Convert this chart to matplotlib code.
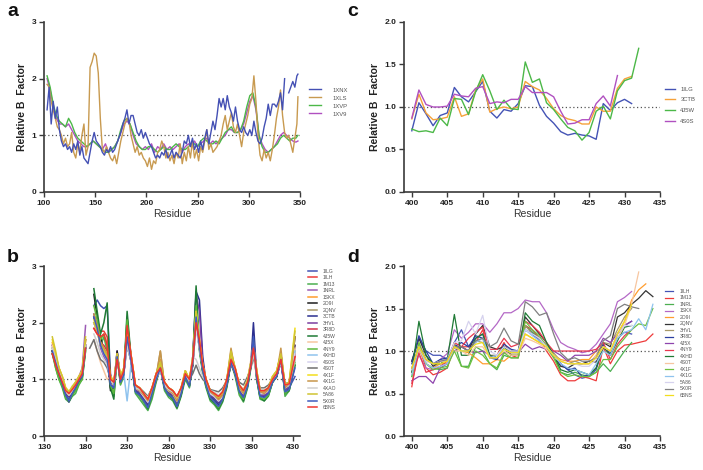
import numpy as np
import matplotlib
matplotlib.use('Agg')
import matplotlib.pyplot as plt

plt.rcParams['font.family'] = ['Liberation Sans', 'DejaVu Sans']
N = np.nan

# ---------------- panel a ----------------
a_names = ['1XNX', '1XLS', '1XVP', '1XV9']
a_colors = ['#4450b4', '#c89a50', '#4cb848', '#b050c0']
res_a_fine = list(range(103, 349, 2)) + [348]
res_a_coarse = list(range(103, 349, 3)) + [348]

a_1xnx = [1.45, 1.85, 1.2, 1.6, 1.3, 1.5, 1.1, 0.9, 0.8, 0.85,
          0.75, 0.8, 0.7, 0.85, 0.75, 0.9, 0.65, 0.8, 0.6, 0.55,
          0.5, 0.7, 0.9, 1.05, 0.9, 0.85, 0.8, 0.7, 0.65, 0.75,
          0.7, 0.8, 0.7, 0.75, 0.85, 0.95, 1.05, 1.2, 1.3, 1.45,
          1.2, 1.35, 1.35, 1.2, 1.05, 1.0, 1.1, 0.95, 1.05, 0.95,
          0.85, 0.8, 0.7, 0.6, 0.65, 0.6, 0.7, 0.65, 0.75, 0.6,
          0.65, 0.75, 0.6, 0.7, 0.65, 0.6, 0.7, 0.9, 0.85, 1.0,
          0.8, 0.95, 0.75, 0.85, 0.7, 0.9, 0.75, 0.95, 1.1, 0.85,
          1.05, 1.25, 1.1, 1.35, 1.65, 1.5, 1.65, 1.45, 1.7, 1.5,
          1.4, 1.25, 1.5, 1.25, 1.1, 1.05, 1.15, 1.05, 1.0, 1.1,
          1.0, 1.25, 1.05, 0.9, 0.85, 0.95, 1.15, 1.3, 1.55, 1.35,
          1.55, 1.55, 1.5, 1.6, 1.75, 1.45, 2.0, N, 1.75, 1.85,
          1.95, 1.85, 2.05, 2.08]
a_1xls = [1.9, 1.85, 1.6, 1.45, 1.3, 1.15, 1.1, 1.0, 0.85, 0.95,
          0.8, 0.85, 1.05, 0.7, 0.6, 0.85, 0.7, 1.0, 1.2, 0.65,
          0.8, 2.2, 2.3, 2.45, 2.4, 2.1, 1.3, 0.75, 0.7, 0.8,
          0.7, 0.6, 0.55, 0.65, 0.5, 0.7, 0.9, 1.05, 1.2, 1.3,
          1.25, 1.0, 0.85, 0.7, 0.8, 0.65, 0.7, 0.6, 0.55, 0.45,
          0.6, 0.4, 0.55, 0.5, 0.7, 0.75, 0.9, 0.8, 0.6, 0.7,
          0.55, 0.65, 0.5, 0.7, 0.6, 0.85, 0.5, 0.7, 0.55, 0.8,
          0.6, 0.9, 0.6, 0.75, 0.55, 0.8, 0.7, 0.9, 1.1, 0.75,
          0.85, 0.7, 0.75, 0.8, 0.9, 1.0, 1.2, 1.35, 1.1, 1.25,
          1.4, 1.15, 1.05, 1.2, 1.0, 0.8, 1.05, 1.2, 1.35, 1.55,
          1.65, 2.05, 1.6, 1.0, 0.65, 0.55, 0.75, 0.6, 0.7, 0.55,
          0.75, 1.0, 1.3, 1.5, 1.8, 1.35, 1.05, 0.95, 1.0, 0.85,
          0.7, 0.95, 1.2, 1.68]
a_1xvp = [2.05, 1.85, 1.55, 1.35, 1.25, 1.2, 1.15, 1.3, 1.2, 1.05,
          0.95, 0.9, 0.85, 0.8, 0.85, 0.9, 0.85, 0.8, 0.75, 0.7,
          0.7, 0.75, 0.8, 0.9, 1.1, 1.25, 1.3, 1.2, 1.05, 0.9,
          0.8, 0.75, 0.75, 0.8, 0.8, 0.75, 0.7, 0.75, 0.8, 0.75,
          0.75, 0.8, 0.85, 0.8, 0.75, 0.75, 0.8, 0.85, 0.85, 0.8,
          0.9, 0.95, 0.9, 0.85, 0.85, 0.9, 0.85, 0.95, 1.05, 1.1,
          1.15, 1.05, 1.05, 1.1, 1.25, 1.5, 1.7, 1.75, 1.5, 1.0,
          0.8, 0.7, 0.7, 0.75, 0.8, 0.85, 0.95, 1.0, 0.95, 0.9,
          0.95, 0.95, 1.0]
a_1xv9 = [2.0, 1.8, 1.5, 1.3, 1.2, 1.2, 1.15, 1.2, 1.1, 1.0,
          0.9, 0.85, 0.8, 0.8, 0.85, 0.9, 0.85, 0.8, 0.75, 0.85,
          0.7, 0.75, 0.8, 0.9, 1.05, 1.2, 1.25, 1.2, 1.0, 0.85,
          0.8, 0.75, 0.8, 0.75, 0.85, 0.7, 0.8, 0.75, 0.85, 0.75,
          0.8, 0.75, 0.8, 0.85, 0.7, 0.8, 0.85, 0.8, 0.9, 0.8,
          0.85, 0.9, 0.95, 0.85, 0.9, 0.85, 0.9, 0.95, 1.0, 1.1,
          1.1, 1.05, 1.05, 1.1, 1.2, 1.4, 1.6, 1.7, 1.45, 1.0,
          0.85, 0.75, 0.7, 0.75, 0.8, 0.9, 1.0, 1.05, 1.0, 0.95,
          0.9, 0.88, 0.9]
a_series = [(res_a_fine, a_1xnx), (res_a_fine, a_1xls),
            (res_a_coarse, a_1xvp), (res_a_coarse, a_1xv9)]

# ---------------- panel b ----------------
b_names = ['1ILG', '1ILH', '1M13', '1NRL', '1SKX', '2O9I', '2QNV', '3CTB',
           '3HVL', '3R8D', '4J5W', '4J5X', '4NY9', '4XHD', '4S0S', '4S0T',
           '4X1F', '4X1G', '4XAO', '5A86', '5X0R', '6BNS']
b_colors = ['#4453b5', '#ee3b3b', '#4caf50', '#9c5bb5', '#ff9d2e', '#1e1e1e',
            '#a89968', '#2b2f8f', '#7b3fa0', '#d2304a', '#1f7a35', '#f7c6a0',
            '#5cb83c', '#8fc3ee', '#d6d2ee', '#707070', '#f2de1c', '#c8964a',
            '#cfcfcf', '#d0c431', '#3f5bbf', '#f0352f']
res_b = [140, 144, 148, 152, 156, 160, 164, 168, 172, 176, 180,
         185,
         190, 194, 198, 202, 206, 210, 214, 218, 222, 226, 230,
         235, 240, 245, 250, 255, 260, 265, 270, 275, 280, 285, 290, 295, 300, 305, 309, 313,
         317, 321, 325, 330, 335, 340, 345, 350, 355, 360, 365, 370, 375, 379, 382,
         386, 390, 395, 400, 405, 410, 415, 420, 425, 432]

b_1ilg = [1.5, 1.3, 1.1, 0.95, 0.75, 0.65, 0.78, 0.85, 1.05, 1.05, 1.6,
          N,
          2.3, 2.4, 2.3, 2.25, 2.3, 1.1, 0.85, 1.5, 0.95, 1.1, 1.85,
          1.3, 0.8, 0.75, 0.65, 0.55, 0.78, 1.0, 1.2, 0.85, 0.75, 0.7, 0.55, 0.78, 1.05, 0.9, 1.25, 2.0,
          1.55, 1.15, 0.9, 0.7, 0.65, 0.58, 0.68, 0.9, 1.3, 1.1, 0.8, 0.72, 0.9, 1.25, 1.6,
          1.05, 0.72, 0.72, 0.78, 0.98, 1.08, 1.35, 0.75, 0.85, 1.05]
b_1ilh = [1.45, 1.3, 1.1, 1.0, 0.82, 0.75, 0.85, 0.92, 1.0, 1.15, 1.6,
          N,
          1.9, 1.8, 1.85, 1.85, 1.75, 1.05, 0.95, 1.4, 1.05, 1.15, 1.95,
          1.4, 0.88, 0.82, 0.75, 0.65, 0.85, 1.1, 1.2, 0.92, 0.85, 0.8, 0.68, 0.82, 1.1, 1.0, 1.35, 2.05,
          1.65, 1.25, 1.0, 0.8, 0.75, 0.68, 0.75, 0.98, 1.3, 1.2, 0.9, 0.8, 0.95, 1.25, 1.55,
          1.1, 0.8, 0.78, 0.82, 1.0, 1.12, 1.35, 0.9, 0.95, 1.4]
b_1m13 = [1.5, 1.2, 1.0, 0.85, 0.65, 0.6, 0.7, 0.75, 0.9, 1.0, 1.5,
          N,
          2.1, 1.9, 1.6, 1.75, 1.5, 0.85, 0.7, 1.4, 0.9, 1.05, 2.1,
          1.3, 0.75, 0.65, 0.55, 0.45, 0.65, 0.95, 1.2, 0.8, 0.68, 0.62, 0.48, 0.7, 1.0, 0.85, 1.3, 2.15,
          1.5, 1.1, 0.85, 0.62, 0.55, 0.45, 0.6, 0.85, 1.3, 1.05, 0.72, 0.6, 0.85, 1.2, 1.6,
          1.0, 0.65, 0.62, 0.7, 0.95, 1.05, 1.45, 0.7, 0.8, 1.25]
b_1nrl = [1.6, 1.4, 1.2, 1.0, 0.78, 0.7, 0.8, 0.95, 1.05, 1.2, 1.95,
          N,
          2.1, 1.9, 1.55, 1.4, 1.3, 0.95, 0.9, 1.5, 1.0, 1.15, 1.8,
          1.35, 0.85, 0.8, 0.72, 0.62, 0.82, 1.05, 1.25, 0.92, 0.8, 0.75, 0.62, 0.8, 1.15, 0.95, 1.35, 2.2,
          1.6, 1.2, 0.95, 0.75, 0.7, 0.62, 0.72, 0.95, 1.4, 1.15, 0.85, 0.75, 0.95, 1.3, 1.65,
          1.1, 0.75, 0.75, 0.8, 1.0, 1.1, 1.4, 0.85, 0.9, 1.45]
b_1skx = [1.65, 1.4, 1.2, 1.05, 0.85, 0.78, 0.85, 0.95, 1.05, 1.15, 1.7,
          N,
          2.0, 1.85, 1.6, 1.5, 1.35, 1.0, 0.92, 1.4, 1.05, 1.2, 1.8,
          1.4, 0.9, 0.85, 0.75, 0.65, 0.85, 1.1, 1.35, 0.95, 0.85, 0.8, 0.65, 0.85, 1.15, 1.0, 1.35, 2.0,
          1.65, 1.25, 1.0, 0.8, 0.75, 0.68, 0.78, 1.0, 1.45, 1.2, 0.9, 0.8, 1.0, 1.3, 1.6,
          1.15, 0.8, 0.8, 0.85, 1.05, 1.15, 1.45, 0.9, 0.95, 1.6]
b_2o9i = [1.5, 1.3, 1.1, 0.95, 0.78, 0.7, 0.78, 0.88, 0.98, 1.08, 1.6,
          N,
          2.5, 2.1, 1.75, 1.5, 1.4, 0.8, 0.85, 1.5, 0.95, 1.1, 1.75,
          1.3, 0.82, 0.78, 0.68, 0.58, 0.8, 1.0, 1.2, 0.88, 0.78, 0.72, 0.58, 0.78, 1.05, 0.92, 1.25, 2.0,
          1.55, 1.15, 0.92, 0.72, 0.68, 0.6, 0.7, 0.92, 1.3, 1.1, 0.82, 0.72, 0.92, 1.25, 1.65,
          1.05, 0.72, 0.72, 0.8, 0.98, 1.05, 1.35, 0.85, 0.88, 1.75]
b_2qnv = [1.55, 1.35, 1.15, 1.0, 0.8, 0.72, 0.82, 0.9, 1.0, 1.1, 1.6,
          N,
          2.15, 1.95, 1.65, 1.5, 1.4, 1.0, 0.9, 1.4, 1.0, 1.15, 1.85,
          1.35, 0.85, 0.8, 0.7, 0.6, 0.8, 1.05, 1.5, 0.9, 0.8, 0.75, 0.62, 0.8, 1.1, 0.95, 1.3, 2.05,
          1.6, 1.2, 0.95, 0.75, 0.7, 0.62, 0.7, 0.95, 1.4, 1.15, 0.85, 0.75, 0.95, 1.3, 1.65,
          1.1, 0.75, 0.75, 0.8, 1.0, 1.1, 1.4, 0.85, 0.9, 1.5]
b_3ctb = [1.45, 1.25, 1.05, 0.9, 0.7, 0.6, 0.75, 0.85, 0.95, 1.05, 1.55,
          N,
          2.1, 1.9, 1.65, 1.5, 1.4, 0.9, 0.85, 1.4, 0.95, 1.1, 1.8,
          1.3, 0.8, 0.72, 0.62, 0.52, 0.75, 1.0, 1.2, 0.85, 0.72, 0.68, 0.52, 0.75, 1.05, 0.9, 1.4, 2.55,
          2.4, 1.4, 0.95, 0.7, 0.62, 0.55, 0.65, 0.9, 1.35, 1.1, 0.8, 0.7, 0.9, 1.3, 2.0,
          1.05, 0.7, 0.7, 0.78, 0.95, 1.05, 1.3, 0.8, 0.85, 1.6]
b_3hvl = [1.6, 1.4, 1.15, 0.98, 0.78, 0.7, 0.78, 0.88, 1.0, 1.15, 1.7,
          N,
          2.15, 1.95, 1.6, 1.45, 1.35, 0.95, 0.88, 1.45, 1.0, 1.1, 1.6,
          1.3, 0.82, 0.78, 0.68, 0.58, 0.8, 1.0, 1.2, 0.88, 0.78, 0.72, 0.58, 0.8, 1.08, 0.92, 1.35, 2.5,
          2.2, 1.3, 0.92, 0.72, 0.68, 0.6, 0.68, 0.92, 1.35, 1.1, 0.82, 0.72, 0.92, 1.28, 1.7,
          1.08, 0.72, 0.72, 0.78, 0.98, 1.05, 1.35, 0.8, 0.88, 1.45]
b_3r8d = [1.5, 1.3, 1.12, 0.98, 0.8, 0.75, 0.82, 0.9, 1.0, 1.1, 1.6,
          N,
          2.0, 1.85, 1.65, 1.6, 1.5, 1.0, 0.92, 1.4, 1.02, 1.15, 1.9,
          1.38, 0.88, 0.82, 0.72, 0.62, 0.82, 1.05, 1.22, 0.92, 0.82, 0.78, 0.65, 0.82, 1.1, 0.98, 1.3, 2.0,
          1.6, 1.22, 0.98, 0.78, 0.72, 0.65, 0.72, 0.95, 1.35, 1.15, 0.88, 0.78, 0.95, 1.28, 1.6,
          1.12, 0.78, 0.78, 0.82, 1.0, 1.1, 1.38, 0.88, 0.92, 1.45]
b_4j5w = [1.5, 1.25, 1.05, 0.9, 0.7, 0.62, 0.72, 0.82, 0.95, 1.05, 1.55,
          N,
          2.6, 2.2, 1.8, 2.0, 2.35, 0.85, 0.65, 1.45, 0.95, 1.1, 2.2,
          1.35, 0.78, 0.7, 0.6, 0.48, 0.72, 0.98, 1.3, 0.85, 0.72, 0.65, 0.5, 0.72, 1.05, 0.88, 1.3, 2.65,
          1.6, 1.15, 0.88, 0.65, 0.58, 0.48, 0.62, 0.88, 1.3, 1.1, 0.78, 0.62, 0.88, 1.25, 1.7,
          1.0, 0.68, 0.62, 0.72, 0.95, 1.05, 1.45, 0.75, 0.8, 1.25]
b_4j5x = [1.6, 1.4, 1.2, 1.05, 0.85, 0.78, 0.85, 0.95, 1.05, 1.15, 1.65,
          N,
          1.7, 1.5, 1.3, 1.15, 1.0, 1.05, 0.95, 1.45, 1.05, 1.2, 1.8,
          1.4, 0.9, 0.85, 0.75, 0.65, 0.85, 1.1, 1.3, 0.95, 0.85, 0.8, 0.68, 0.85, 1.15, 1.0, 1.35, 1.95,
          1.6, 1.25, 1.0, 0.8, 0.75, 0.7, 0.8, 1.0, 1.5, 1.2, 0.9, 0.8, 1.0, 1.35, 1.6,
          1.15, 0.8, 0.8, 0.85, 1.05, 1.15, 1.45, 0.9, 0.95, 1.55]
b_4ny9 = [1.45, 1.2, 1.0, 0.88, 0.68, 0.62, 0.72, 0.8, 0.92, 1.0, 1.5,
          N,
          2.3, 2.05, 1.7, 1.8, 1.6, 0.9, 0.75, 1.4, 0.92, 1.08, 2.05,
          1.3, 0.78, 0.7, 0.6, 0.5, 0.72, 0.98, 1.22, 0.85, 0.72, 0.68, 0.52, 0.75, 1.05, 0.88, 1.3, 2.3,
          1.55, 1.12, 0.88, 0.68, 0.6, 0.5, 0.65, 0.9, 1.32, 1.08, 0.75, 0.65, 0.88, 1.22, 1.6,
          1.02, 0.68, 0.65, 0.72, 0.95, 1.05, 1.45, 0.75, 0.82, 1.3]
b_4xhd = [1.55, 1.35, 1.15, 1.0, 0.8, 0.72, 0.8, 0.9, 1.0, 1.1, 1.6,
          N,
          2.0, 1.85, 1.6, 1.5, 1.35, 1.0, 0.9, 1.4, 1.0, 1.1, 0.62,
          1.3, 0.85, 0.8, 0.7, 0.6, 0.8, 1.05, 1.2, 0.9, 0.8, 0.75, 0.62, 0.8, 1.1, 0.95, 1.3, 1.95,
          1.55, 1.2, 0.95, 0.75, 0.7, 0.62, 0.7, 0.95, 1.35, 1.15, 0.85, 0.75, 0.95, 1.3, 1.6,
          1.1, 0.75, 0.75, 0.8, 1.0, 1.1, 1.4, 0.85, 0.9, 1.5]
b_4s0s = [1.55, 1.35, 1.15, 1.0, 0.8, 0.72, 0.8, 0.9, 1.0, 1.1, 1.6,
          N,
          2.0, 1.85, 1.6, 1.45, 1.35, 1.0, 0.9, 1.4, 1.0, 1.15, 1.7,
          1.35, 0.85, 0.8, 0.7, 0.6, 0.8, 1.05, 1.2, 0.9, 0.8, 0.75, 0.62, 0.8, 1.1, 0.95, 1.3, 1.9,
          1.55, 1.2, 0.95, 0.75, 0.7, 0.62, 0.7, 0.95, 1.35, 1.15, 0.85, 0.75, 0.95, 1.3, 1.6,
          1.1, 0.75, 0.75, 0.8, 1.0, 1.1, 1.4, 0.85, 0.9, 1.45]
b_4s0t = [1.5, 1.3, 1.12, 1.0, 0.82, 0.75, 0.82, 0.92, 1.02, 1.1, N,
          1.55,
          1.7, 1.5, 1.35, 1.3, 1.2, 1.0, 0.92, 1.35, 1.02, 1.12, 1.6,
          1.3, 0.88, 0.85, 0.78, 0.7, 0.85, 1.02, 1.15, 0.92, 0.85, 0.8, 0.7, 0.85, 1.05, 1.0, 1.1, 1.25,
          1.1, 1.0, 0.95, 0.82, 0.8, 0.78, 0.85, 0.98, 1.25, 1.1, 0.95, 0.9, 1.05, 1.2, 1.4,
          1.05, 0.85, 0.85, 0.9, 1.0, 1.08, 1.3, 0.92, 0.95, 1.35]
b_4x1f = [1.7, 1.45, 1.2, 1.05, 0.85, 0.78, 0.85, 0.95, 1.05, 1.15, 1.7,
          N,
          2.05, 1.9, 1.65, 1.55, 1.45, 1.05, 0.95, 1.45, 1.05, 1.2, 1.85,
          1.4, 0.9, 0.85, 0.75, 0.65, 0.85, 1.1, 1.3, 0.95, 0.85, 0.8, 0.68, 0.85, 1.15, 1.0, 1.4, 2.2,
          1.7, 1.25, 1.0, 0.8, 0.75, 0.68, 0.78, 1.0, 1.45, 1.2, 0.9, 0.8, 1.0, 1.3, 1.6,
          1.15, 0.8, 0.8, 0.85, 1.05, 1.15, 1.45, 0.9, 0.95, 1.9]
b_4x1g = [1.55, 1.35, 1.15, 1.0, 0.8, 0.72, 0.82, 0.92, 1.0, 1.12, 1.7,
          N,
          2.15, 1.95, 1.65, 1.55, 1.45, 1.0, 0.9, 1.45, 1.0, 1.15, 1.85,
          1.35, 0.85, 0.8, 0.72, 0.62, 0.82, 1.05, 1.5, 0.9, 0.8, 0.75, 0.62, 0.82, 1.12, 0.95, 1.3, 2.05,
          1.6, 1.2, 0.95, 0.78, 0.72, 0.64, 0.72, 0.98, 1.55, 1.15, 0.85, 0.75, 0.95, 1.3, 1.65,
          1.1, 0.78, 0.75, 0.82, 1.0, 1.1, 1.55, 0.85, 0.92, 1.75]
b_4xao = [1.55, 1.35, 1.15, 1.0, 0.8, 0.72, 0.8, 0.9, 1.0, 1.1, 1.6,
          N,
          1.8, 1.65, 1.45, 1.35, 1.25, 1.0, 0.9, 1.35, 1.0, 1.1, 1.6,
          1.3, 0.85, 0.82, 0.75, 0.68, 0.82, 1.02, 1.15, 0.9, 0.82, 0.78, 0.68, 0.82, 1.05, 0.98, 1.4, 1.35,
          1.2, 1.05, 0.95, 0.8, 0.78, 0.72, 0.8, 0.98, 1.3, 1.12, 0.9, 0.82, 1.0, 1.25, 1.45,
          1.05, 0.82, 0.82, 0.85, 1.0, 1.08, 1.3, 0.9, 0.92, 1.35]
b_5a86 = [1.75, 1.5, 1.2, 1.05, 0.85, 0.78, 0.88, 0.95, 1.05, 1.15, 1.75,
          N,
          2.0, 1.85, 1.6, 1.5, 1.4, 1.05, 0.95, 1.45, 1.05, 1.2, 1.8,
          1.4, 0.9, 0.85, 0.75, 0.65, 0.85, 1.1, 1.3, 0.95, 0.85, 0.8, 0.68, 0.85, 1.15, 1.0, 1.4, 2.2,
          1.7, 1.25, 1.0, 0.8, 0.75, 0.68, 0.78, 1.0, 1.5, 1.2, 0.9, 0.8, 1.0, 1.3, 1.6,
          1.15, 0.8, 0.8, 0.85, 1.05, 1.15, 1.45, 0.9, 0.95, 1.85]
b_5x0r = [1.5, 1.3, 1.1, 0.92, 0.72, 0.62, 0.75, 0.85, 0.98, 1.05, 1.55,
          N,
          2.1, 1.9, 1.6, 1.45, 1.35, 0.9, 0.85, 1.4, 0.95, 1.08, 1.75,
          1.3, 0.78, 0.72, 0.62, 0.5, 0.75, 1.0, 1.2, 0.85, 0.72, 0.68, 0.52, 0.75, 1.05, 0.88, 1.3, 2.1,
          1.6, 1.15, 0.9, 0.68, 0.6, 0.52, 0.65, 0.9, 1.3, 1.1, 0.78, 0.68, 0.88, 1.25, 1.75,
          1.02, 0.7, 0.68, 0.75, 0.95, 1.05, 1.35, 0.78, 0.82, 1.2]
b_6bns = [1.45, 1.25, 1.1, 0.95, 0.8, 0.75, 0.82, 0.9, 1.0, 1.1, 1.55,
          N,
          1.9, 1.8, 1.75, 1.8, 1.6, 1.0, 0.95, 1.35, 1.0, 1.15, 1.95,
          1.4, 0.9, 0.85, 0.75, 0.65, 0.85, 1.1, 1.2, 0.95, 0.85, 0.8, 0.7, 0.85, 1.1, 1.0, 1.35, 2.0,
          1.7, 1.25, 1.0, 0.8, 0.75, 0.7, 0.78, 1.0, 1.35, 1.2, 0.9, 0.8, 0.95, 1.25, 1.55,
          1.1, 0.8, 0.8, 0.85, 1.0, 1.1, 1.35, 0.9, 0.92, 1.4]
b_series = [b_1ilg, b_1ilh, b_1m13, b_1nrl, b_1skx, b_2o9i, b_2qnv, b_3ctb,
            b_3hvl, b_3r8d, b_4j5w, b_4j5x, b_4ny9, b_4xhd, b_4s0s, b_4s0t,
            b_4x1f, b_4x1g, b_4xao, b_5a86, b_5x0r, b_6bns]

# ---------------- panel c ----------------
c_names = ['1ILG', '3CTB', '4J5W', '4S0S']
c_colors = ['#4453b5', '#f5a23a', '#4cb848', '#b050c0']
c_1ilg = [0.72, 1.05, 0.92, 0.78, 0.90, 0.93, 1.23, 1.12, 1.06, 1.18,
          1.30, 0.95, 0.87, 0.97, 0.95, 1.04, 1.25, 1.24, 1.02, 0.89,
          0.81, 0.71, 0.67, 0.69, 0.67, 0.66, 0.62, 1.04, 0.96, 1.05,
          1.09, 1.04]
c_3ctb = [0.86, 1.15, 0.93, 0.85, 0.86, 0.88, 1.12, 0.89, 0.92, 1.20,
          1.33, 0.94, 0.98, 1.00, 0.98, 1.00, 1.30, 1.24, 1.20, 1.10,
          0.98, 0.90, 0.86, 0.84, 0.80, 0.80, 1.00, 0.95, 0.95, 1.22,
          1.33, 1.36]
c_4j5w = [0.74, 0.71, 0.72, 0.70, 0.87, 0.78, 1.10, 1.09, 0.91, 1.18,
          1.38, 1.19, 0.97, 1.08, 0.98, 0.97, 1.53, 1.29, 1.33, 1.05,
          0.97, 0.86, 0.76, 0.72, 0.61, 0.70, 0.95, 1.01, 0.86, 1.19,
          1.31, 1.34, 1.69]
c_4s0s = [0.87, 1.20, 1.03, 1.00, 1.00, 1.01, 1.15, 1.13, 1.12, 1.22,
          1.24, 1.04, 1.06, 1.05, 1.09, 1.09, 1.24, 1.17, 1.17, 1.17,
          1.12, 0.95, 0.80, 0.81, 0.85, 0.85, 1.04, 1.13, 1.01, 1.37]
c_series = [c_1ilg, c_3ctb, c_4j5w, c_4s0s]

# ---------------- panel d ----------------
d_names = ['1ILH', '1M13', '1NRL', '1SKX', '2O9I', '2QNV', '3HVL', '3R8D', '4J5X',
           '4NY9', '4XHD', '4S0T', '4X1F', '4X1G', '5A86', '5X0R', '6BNS']
d_colors = ['#4453b5', '#ee3b3b', '#4caf50', '#b468c6', '#ff9d2e', '#333333',
            '#a89968', '#2b3fa0', '#8e44ad', '#e8384f', '#1f7a35', '#f7c6a0',
            '#6cc040', '#8fc3ee', '#d6d2ee', '#808080', '#f2de1c']
d_1ilh = [0.88, 1.15, 1.0, 0.95, 0.95, 0.9, 1.1, 1.25, 1.05, 1.15, 1.2, 0.95, 0.9, 1.05, 1.0, 1.0,
          1.3, 1.22, 1.15, 1.05, 0.95, 0.85, 0.78, 0.72, 0.68, 0.7, 0.78, 1.05, 0.98, 1.15, 1.22, 1.2]
d_1m13 = [0.58, 1.05, 0.8, 0.72, 0.75, 0.8, 1.05, 1.05, 1.05, 1.1, 1.25, 0.92, 0.95, 1.1, 0.95, 0.92,
          1.3, 1.25, 1.15, 1.0, 0.88, 0.72, 0.65, 0.65, 0.7, 0.68, 0.65, 1.05, 0.85, 1.0, 1.07, 1.08,
          1.1, 1.12, 1.2]
d_1nrl = [0.7, 1.05, 0.85, 0.8, 0.78, 0.8, 1.1, 0.82, 0.82, 1.05, 1.0, 0.85, 0.78, 0.95, 0.92, 0.92,
          1.3, 1.22, 1.15, 1.05, 0.95, 0.75, 0.72, 0.75, 0.72, 0.7, 0.75, 0.85, 0.76, 0.88, 1.0, 1.1]
d_1skx = [0.75, 0.95, 0.8, 0.78, 0.9, 0.97, 1.25, 1.15, 1.22, 1.32, 1.32, 1.22, 1.32, 1.45, 1.45, 1.5,
          1.6, 1.58, 1.58, 1.45, 1.25, 1.1, 1.05, 1.02, 0.98, 1.0, 1.08, 1.2, 1.32, 1.58, 1.63, 1.7]
d_2o9i = [0.78, 1.02, 0.85, 0.8, 0.85, 0.85, 1.05, 1.0, 0.98, 0.92, 0.85, 0.85, 0.9, 0.88, 0.95, 0.95,
          1.2, 1.15, 1.1, 1.05, 0.95, 0.9, 0.88, 0.88, 0.9, 0.9, 1.0, 1.05, 1.0, 1.2, 1.35, 1.6,
          1.72, 1.79]
d_2qnv = [0.88, 1.15, 0.95, 0.82, 0.88, 0.9, 1.05, 1.05, 1.0, 1.2, 1.3, 1.05, 1.02, 1.05, 1.0, 1.0,
          1.4, 1.3, 1.2, 1.1, 0.95, 0.82, 0.8, 0.85, 0.85, 0.88, 0.87, 1.1, 1.05, 1.4, 1.45, 1.55,
          1.62, 1.71, 1.64]
d_3hvl = [0.75, 1.1, 0.9, 0.85, 0.88, 0.9, 1.08, 1.0, 1.0, 1.12, 1.1, 0.95, 0.95, 1.05, 1.0, 1.0,
          1.3, 1.2, 1.15, 1.08, 0.98, 0.88, 0.85, 0.88, 0.85, 0.85, 0.95, 1.1, 1.08, 1.25, 1.4, 1.5]
d_3r8d = [0.85, 1.18, 1.0, 0.85, 0.9, 0.92, 1.05, 1.1, 1.05, 1.18, 1.15, 0.92, 0.9, 1.08, 1.02, 1.0,
          1.25, 1.2, 1.12, 1.05, 0.95, 0.85, 0.78, 0.8, 0.7, 0.72, 0.8, 1.08, 0.95, 1.2, 1.3, 1.35]
d_4j5x = [0.65, 0.7, 0.7, 0.62, 0.8, 0.85, 1.0, 1.05, 1.0, 0.98, 1.0, 0.95, 0.92, 0.98, 0.98, 0.98,
          1.08, 1.02, 1.05, 1.02, 1.0, 0.95, 0.88, 0.95, 0.95, 0.95, 1.0, 1.15, 1.1, 1.2, 1.3, 1.35]
d_4ny9 = [0.62, 0.98, 0.75, 0.78, 0.82, 0.88, 1.1, 1.05, 1.15, 1.22, 1.28, 1.02, 1.02, 1.15, 1.05, 1.08,
          1.35, 1.3, 1.22, 1.1, 1.0, 1.0, 1.0, 1.0, 1.0, 1.0, 1.02, 1.1, 0.9, 1.08, 1.18, 1.25]
d_4xhd = [0.75, 1.35, 0.95, 0.85, 0.85, 0.9, 1.43, 0.95, 0.95, 1.15, 1.2, 0.95, 0.92, 1.05, 0.95, 0.95,
          1.45, 1.35, 1.3, 1.1, 0.95, 0.78, 0.75, 0.78, 0.75, 0.72, 0.8, 1.05, 0.95, 1.12, 1.28, 1.3]
d_4s0t = [0.8, 1.02, 0.88, 0.85, 0.88, 0.88, 1.0, 1.0, 0.95, 1.05, 1.05, 0.92, 0.92, 1.0, 0.95, 0.95,
          1.15, 1.12, 1.08, 1.02, 0.92, 0.88, 0.85, 0.85, 0.85, 0.85, 0.95, 1.05, 1.0, 1.15, 1.3, 1.55,
          1.93]
d_4x1f = [0.7, 1.1, 0.85, 0.78, 0.8, 0.82, 1.0, 0.82, 0.8, 1.0, 0.95, 0.85, 0.8, 0.98, 0.92, 0.92,
          1.35, 1.25, 1.18, 1.05, 0.92, 0.75, 0.7, 0.72, 0.7, 0.7, 0.75, 0.9, 0.9, 1.05, 1.15, 1.25,
          1.32, 1.3, 1.5]
d_4x1g = [0.72, 1.05, 0.85, 0.8, 0.82, 0.85, 1.05, 1.0, 1.0, 1.1, 1.15, 0.92, 0.95, 1.02, 0.98, 0.98,
          1.25, 1.18, 1.12, 1.05, 0.95, 0.85, 0.8, 0.78, 0.75, 0.72, 0.85, 1.0, 0.95, 1.15, 1.22, 1.25,
          1.38, 1.25, 1.55]
d_5a86 = [0.78, 1.05, 0.88, 0.85, 0.88, 0.9, 1.1, 1.12, 1.35, 1.2, 1.42, 1.0, 0.95, 1.05, 1.0, 1.0,
          1.25, 1.2, 1.15, 1.05, 0.95, 0.88, 0.85, 0.85, 0.82, 0.82, 0.9, 1.05, 1.0, 1.2, 1.3, 1.3]
d_5x0r = [0.8, 1.05, 0.9, 0.85, 0.88, 0.9, 1.05, 1.05, 1.0, 1.12, 1.15, 1.05, 1.1, 1.27, 1.12, 1.08,
          1.58, 1.52, 1.42, 1.45, 1.2, 0.98, 0.9, 0.92, 0.88, 0.88, 0.92, 1.12, 1.18, 1.5, 1.55, 1.52,
          1.5]
d_6bns = [0.8, 1.05, 0.9, 0.85, 0.85, 0.88, 1.05, 1.0, 1.0, 1.08, 1.1, 0.92, 0.92, 1.02, 0.98, 0.98,
          1.2, 1.15, 1.1, 1.05, 0.95, 0.88, 0.85, 0.85, 0.85, 0.85, 0.92, 1.05, 1.0, 1.2, 1.35, 1.55]
d_series = [d_1ilh, d_1m13, d_1nrl, d_1skx, d_2o9i, d_2qnv, d_3hvl, d_3r8d, d_4j5x,
            d_4ny9, d_4xhd, d_4s0t, d_4x1f, d_4x1g, d_5a86, d_5x0r, d_6bns]

AX_COL = '#3a3a3a'


def style(ax, xlim, xticks, ylim, yticks, ylabels):
    ax.set_xlim(xlim)
    ax.set_ylim(ylim)
    ax.set_xticks(xticks, [str(t) for t in xticks], fontweight='bold')
    ax.set_yticks(yticks, ylabels, fontweight='bold')
    ax.spines['top'].set_visible(False)
    ax.spines['right'].set_visible(False)
    for s in ['left', 'bottom']:
        ax.spines[s].set_color(AX_COL)
        ax.spines[s].set_linewidth(1.2)
    ax.tick_params(direction='out', length=3.5, width=1, color=AX_COL,
                   labelsize=6, pad=2, labelcolor='#222222')
    ax.axhline(1, color='#555555', lw=0.9, ls=(0, (1, 2)), zorder=1)
    ax.set_xlabel('Residue', fontsize=7.5, labelpad=2, color='#333333')
    ax.set_ylabel('Relative B  Factor', fontsize=7.5, fontweight='bold',
                  labelpad=3, color='#222222')


def legend(ax, handles, names, anchor, fs, lspace, hlen, hpad):
    ax.legend(handles, names, loc='upper left', bbox_to_anchor=anchor,
              frameon=False, fontsize=fs, labelspacing=lspace,
              handlelength=hlen, handletextpad=hpad, borderpad=0,
              borderaxespad=0, labelcolor='#555555')


fig = plt.figure(figsize=(7.03, 4.70), dpi=100)
ax_a = fig.add_axes([0.0626, 0.5915, 0.3641, 0.3617])
ax_c = fig.add_axes([0.5747, 0.5915, 0.3641, 0.3617])
ax_b = fig.add_axes([0.0626, 0.0723, 0.3641, 0.3617])
ax_d = fig.add_axes([0.5747, 0.0723, 0.3641, 0.3617])

# a
hs = []
for i, ((xs, ys), col) in enumerate(zip(a_series, a_colors)):
    h, = ax_a.plot(xs, ys, color=col, lw=1.0, zorder=5 - i)
    hs.append(h)
style(ax_a, (100, 350), [100, 150, 200, 250, 300, 350], (0, 3), [0, 1, 2, 3],
      ['0', '1', '2', '3'])
legend(ax_a, hs, a_names, (1.035, 0.615), 4.2, 0.5, 2.0, 2.0)

# b
hs = []
for ys, col in zip(b_series, b_colors):
    h, = ax_b.plot(res_b, ys, color=col, lw=1.1)
    hs.append(h)
style(ax_b, (130, 438), [130, 180, 230, 280, 330, 380, 430], (0, 3), [0, 1, 2, 3],
      ['0', '1', '2', '3'])
legend(ax_b, hs, b_names, (1.03, 0.985), 3.6, 0.3, 1.8, 1.2)

# c
hs = []
for ys, col in zip(c_series, c_colors):
    h, = ax_c.plot(np.arange(400, 400 + len(ys)), ys, color=col, lw=1.0)
    hs.append(h)
style(ax_c, (398.9, 435), [400, 405, 410, 415, 420, 425, 430, 435], (0, 2),
      [0, 0.5, 1, 1.5, 2], ['0.0', '0.5', '1.0', '1.5', '2.0'])
legend(ax_c, hs, c_names, (1.02, 0.62), 4.2, 0.95, 1.7, 0.9)

# d
hs = []
for ys, col in zip(d_series, d_colors):
    h, = ax_d.plot(np.arange(400, 400 + len(ys)), ys, color=col, lw=0.9)
    hs.append(h)
style(ax_d, (398.9, 435), [400, 405, 410, 415, 420, 425, 430, 435], (0, 2),
      [0, 0.5, 1, 1.5, 2], ['0.0', '0.5', '1.0', '1.5', '2.0'])
legend(ax_d, hs, d_names, (1.02, 0.865), 3.6, 0.3, 1.6, 1.4)

for lab, x, y in [('a', 7, 12), ('c', 347, 12), ('b', 7, 258), ('d', 347, 258)]:
    fig.text(x / 703, 1 - y / 470, lab, fontsize=14, fontweight='bold',
             ha='left', va='center', color='#111111')

fig.savefig('out.png', dpi=100)
